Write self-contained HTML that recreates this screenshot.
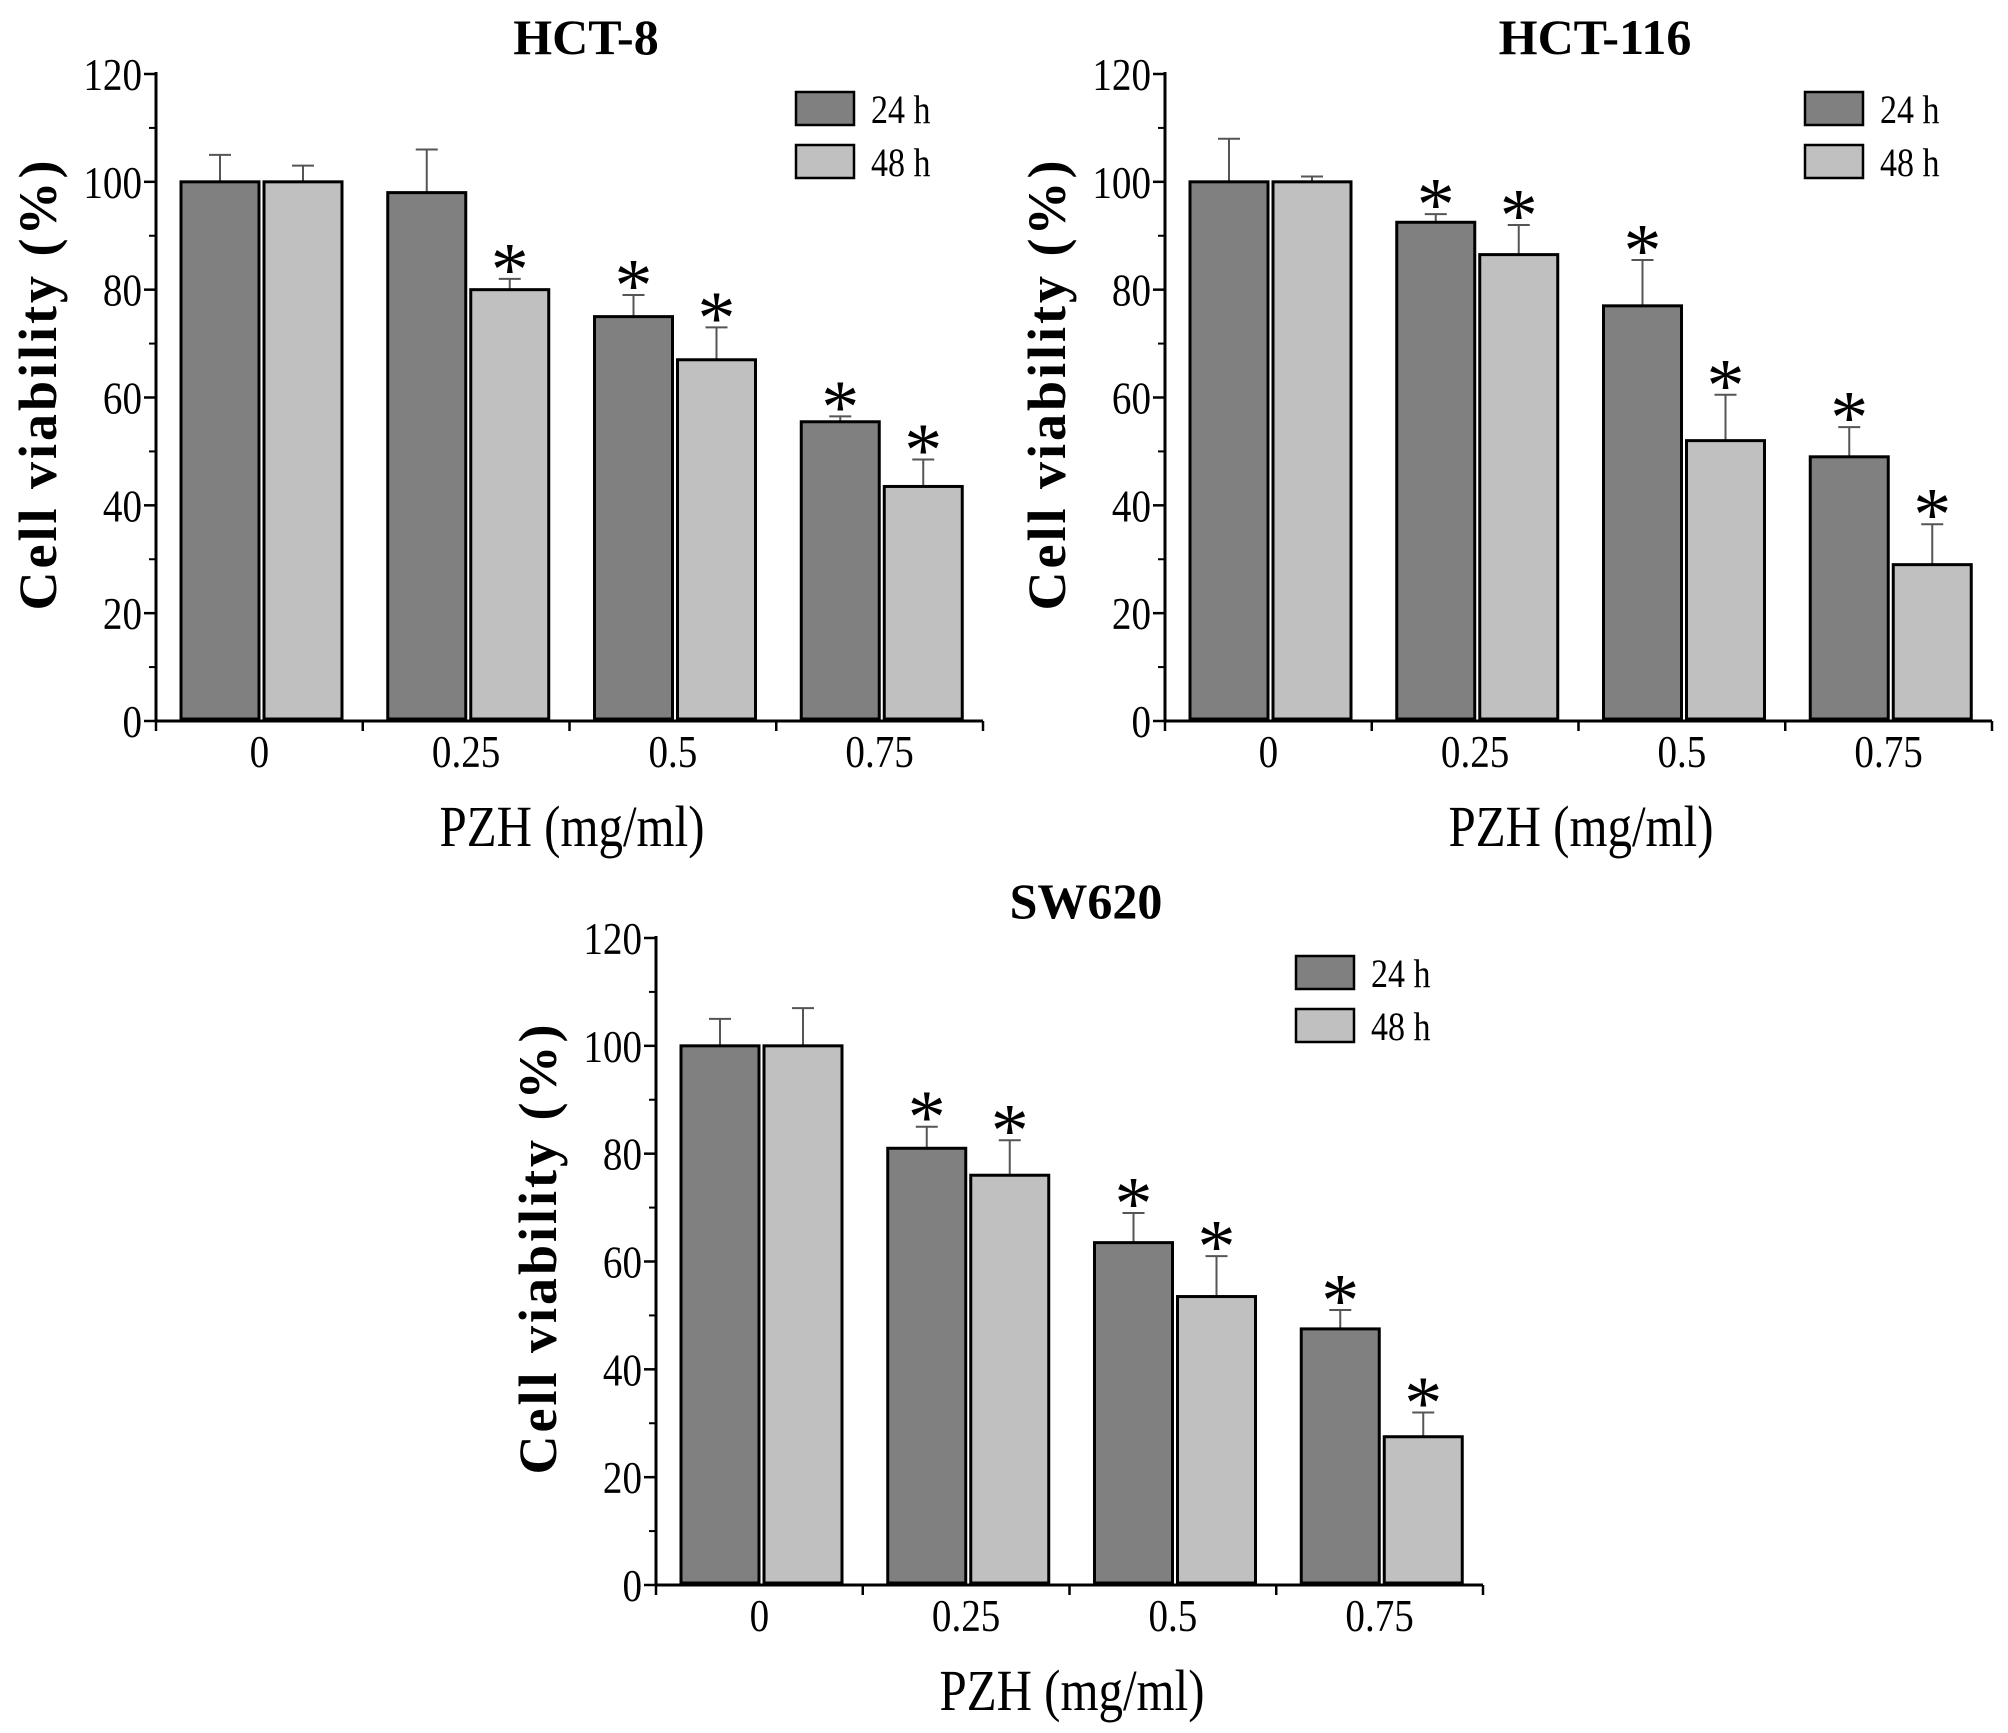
<!DOCTYPE html>
<html><head><meta charset="utf-8"><style>
html,body{margin:0;padding:0;background:#fff;overflow:hidden;}
svg{display:block;}
text{font-family:"Liberation Serif",serif;fill:#000;}
</style></head><body>
<svg id="fig" width="2008" height="1733" viewBox="0 0 2008 1733" xmlns="http://www.w3.org/2000/svg"></svg>
<script>
const categories = ["0", "0.25", "0.5", "0.75"];
const yTicks = [0, 20, 40, 60, 80, 100, 120];
const seriesNames = ["24 h", "48 h"];
const hct8_24 = [100, 98, 75, 55.5];
const hct8_24err = [105, 106, 79, 56.5];
const hct8_48 = [100, 80, 67, 43.5];
const hct8_48err = [103, 82, 73, 48.5];
const hct8_24star = [false, false, true, true];
const hct8_48star = [false, true, true, true];
const hct116_24 = [100, 92.5, 77, 49];
const hct116_24err = [108, 94, 85.5, 54.5];
const hct116_48 = [100, 86.5, 52, 29];
const hct116_48err = [101, 92, 60.5, 36.5];
const hct116_24star = [false, true, true, true];
const hct116_48star = [false, true, true, true];
const sw_24 = [100, 81, 63.5, 47.5];
const sw_24err = [105, 85, 69, 51];
const sw_48 = [100, 76, 53.5, 27.5];
const sw_48err = [107, 82.5, 61, 32];
const sw_24star = [false, true, true, true];
const sw_48star = [false, true, true, true];

const NS = "http://www.w3.org/2000/svg";
const svg = document.getElementById("fig");
function mk(tag, attrs, parent) {
  const e = document.createElementNS(NS, tag);
  for (const k in attrs) e.setAttribute(k, attrs[k]);
  (parent || svg).appendChild(e);
  return e;
}
const colors = ["#808080", "#c0c0c0"];

function panel(id, title, ox, oy, v24, e24, v48, e48, s24, s48) {
  const g = mk("g", {});
  
  
  const x0 = ox + 156, x1 = ox + 983, y0 = oy + 721, yTop = oy + 74;
  const yScale = v => y0 - (v / 120) * (y0 - yTop);
  const groupW = (x1 - x0) / categories.length;
  const bw = 78, gap = 5, off = 25;
  const t = mk("text", {x: ox + 586, y: oy + 54, "font-size": 50, "font-weight": "bold", "text-anchor": "middle"}, g);
  t.textContent = title;
  
  
  const series = [[v24, e24, s24], [v48, e48, s48]];
  categories.forEach((c, i) => {
    series.forEach((s, k) => {
      const bx = x0 + i * groupW + off + k * (bw + gap);
      const y = yScale(s[0][i]);
      const ye = yScale(s[1][i]);
      const cx = bx + bw / 2;
      const el = mk("line", {x1: cx, x2: cx, y1: y, y2: ye, stroke: "#555", "stroke-width": 2}, g);
      
      
      const cap = mk("line", {x1: cx - 11, x2: cx + 11, y1: ye, y2: ye, stroke: "#555", "stroke-width": 2}, g);
      
      
      const r = mk("rect", {x: bx, y: y, width: bw, height: y0 - 2 - y, fill: colors[k], stroke: "#000", "stroke-width": 3}, g);
      
      
      if (s[2][i]) {
        const st = mk("text", {x: cx, y: ye + 16, "font-size": 76, "text-anchor": "middle"}, g);
        st.textContent = "*";
        
        
      }
    });
    const lab = mk("text", {x: 0, y: 0, "font-size": 46, "text-anchor": "middle", transform: `translate(${x0 + (i + 0.5) * groupW},${y0 + 46}) scale(0.85,1)`}, g);
    lab.textContent = c;
    
    
  });
  const ya = mk("line", {x1: x0, x2: x0, y1: yTop - 2, y2: y0, stroke: "#000", "stroke-width": 3}, g);
  
  
  const xa = mk("line", {x1: x0, x2: x1, y1: y0, y2: y0, stroke: "#000", "stroke-width": 3}, g);
  
  
  for (let i = 0; i <= categories.length; i++) {
    const tx = x0 + i * groupW;
    const tk = mk("line", {x1: tx, x2: tx, y1: y0, y2: y0 + 10, stroke: "#000", "stroke-width": 2.5}, g);
    
    
  }
  yTicks.forEach((v, i) => {
    const y = yScale(v);
    const tk = mk("line", {x1: x0 - 12, x2: x0, y1: y, y2: y, stroke: "#000", "stroke-width": 2.5}, g);
    
    
    if (i < yTicks.length - 1) {
      const ym = yScale(v + 10);
      const mt = mk("line", {x1: x0 - 7, x2: x0, y1: ym, y2: ym, stroke: "#000", "stroke-width": 2}, g);
      
      
    }
    const lb = mk("text", {x: 0, y: 0, "font-size": 46, "text-anchor": "end", transform: `translate(${x0 - 14},${y + 16}) scale(0.85,1)`}, g);
    lb.textContent = v;
    
    
  });
  const yt = mk("text", {x: 0, y: 0, "font-size": 54, "font-weight": "bold", "text-anchor": "middle", "letter-spacing": 3, transform: `translate(${ox + 56},${oy + 384}) rotate(-90)`}, g);
  yt.textContent = "Cell viability (%)";
  
  
  const xt = mk("text", {x: ox + 572, y: oy + 846, "font-size": 58, "text-anchor": "middle", textLength: 265, lengthAdjust: "spacingAndGlyphs"}, g);
  xt.textContent = "PZH (mg/ml)";
  
  
  seriesNames.forEach((n, k) => {
    const ly = oy + 92 + k * 53;
    const lr = mk("rect", {x: ox + 796, y: ly, width: 58, height: 33, fill: colors[k], stroke: "#000", "stroke-width": 2.5}, g);
    
    
    const lt = mk("text", {x: 0, y: 0, "font-size": 40, transform: `translate(${ox + 871},${ly + 31}) scale(0.85,1)`}, g);
    lt.textContent = n;
    
    
  });
}
panel("hct8", "HCT-8", 0, 0, hct8_24, hct8_24err, hct8_48, hct8_48err, hct8_24star, hct8_48star);
panel("hct116", "HCT-116", 1009, 0, hct116_24, hct116_24err, hct116_48, hct116_48err, hct116_24star, hct116_48star);
panel("sw620", "SW620", 500, 864, sw_24, sw_24err, sw_48, sw_48err, sw_24star, sw_48star);
</script>
</body></html>
